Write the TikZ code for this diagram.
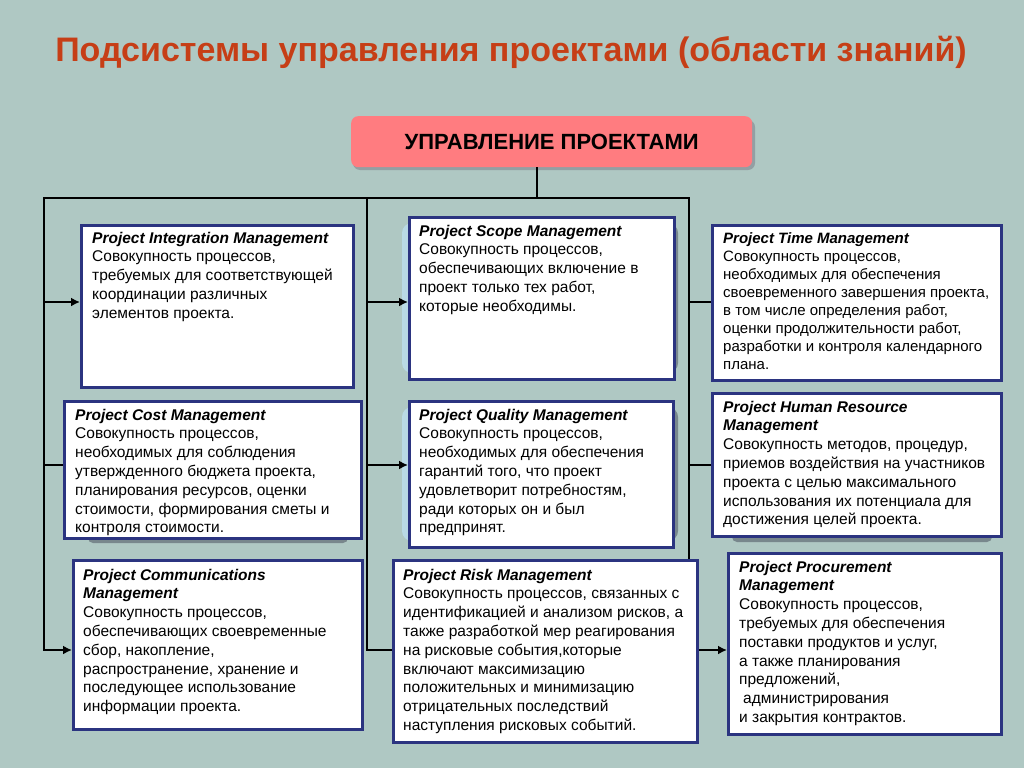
\documentclass[tikz,border=0pt]{standalone}
\usepackage{fontspec}
\setmainfont{Liberation Sans}
\usetikzlibrary{arrows.meta}
\definecolor{bg}{RGB}{175,200,195}
\definecolor{navy}{RGB}{43,52,128}
\definecolor{salmon}{RGB}{255,124,128}
\definecolor{titlec}{RGB}{198,62,22}
\definecolor{shadowc}{RGB}{120,135,140}
\definecolor{haloc}{RGB}{185,218,230}
\tikzset{
  pbox/.style={draw=navy,line width=3pt,fill=white,rectangle,anchor=north west,inner sep=0pt},
  ptext/.style={anchor=north west,inner sep=0pt,align=left,font=\fontsize{15.5}{18.8}\selectfont},
  conn/.style={draw=black,line width=2.8pt},
  arr/.style={conn,-{Latex[length=9pt,width=9pt]}},
  shadowbox/.style={fill=shadowc,rounded corners=5pt},
}
\newcommand{\pt}[1]{\strut\textbf{\textit{#1}}}
\begin{document}
\begin{tikzpicture}[x=1pt,y=-1pt]
\fill[bg] (0,0) rectangle (1024,768);
\useasboundingbox (0,0) rectangle (1024,768);

% title
\node[anchor=base,inner sep=0pt,text=titlec,font=\fontsize{34}{40}\selectfont\bfseries] (title) at (511,62) {Подсистемы управления проектами (области знаний)};

% top box
\fill[shadowc!80,rounded corners=7pt] (353,120) rectangle (755,170);
\node[fill=salmon,rounded corners=7pt,minimum width=401pt,minimum height=51pt,inner sep=0pt,anchor=north west,font=\fontsize{22}{26}\selectfont\bfseries] (T) at (351,116) {УПРАВЛЕНИЕ ПРОЕКТАМИ};

% coordinates of the trunk
\coordinate (top) at (537,198);
\coordinate (LT) at (44,198);
\coordinate (MT) at (367,198);
\coordinate (RT) at (689,198);
\coordinate (L1) at (44,302);
\coordinate (L2) at (44,465);
\coordinate (L3) at (44,650);
\coordinate (M1) at (367,302);
\coordinate (M2) at (367,465);
\coordinate (M3) at (367,650);
\coordinate (R1) at (689,302);
\coordinate (R2) at (689,465);
\coordinate (R3) at (689,650);

% shadows
\shade[left color=haloc,right color=shadowc,rounded corners=10pt] (402,223) rectangle (678,373);
\shade[left color=haloc,right color=shadowc,rounded corners=10pt] (402,407) rectangle (678,541);
\fill[shadowbox] (88,522) rectangle (348,543);
\fill[shadowbox] (732,520) rectangle (992,542);

% boxes
\node[pbox,minimum width=272pt,minimum height=162pt] (integ) at (80,224) {};
\node[pbox,minimum width=265pt,minimum height=162pt] (scope) at (408,216) {};
\node[pbox,minimum width=289pt,minimum height=155pt] (time) at (711,224) {};
\node[pbox,minimum width=297pt,minimum height=137pt] (cost) at (63,400) {};
\node[pbox,minimum width=264pt,minimum height=146pt] (qual) at (408,400) {};
\node[pbox,minimum width=289pt,minimum height=143pt] (hr) at (711,392) {};
\node[pbox,minimum width=289pt,minimum height=169pt] (comm) at (72,559) {};
\node[pbox,minimum width=273pt,minimum height=181pt] (proc) at (727,552) {};

% connectors
\draw[conn] (T.south -| top) -- (top);
\draw[conn,line cap=rect] (LT) -- (RT);
\draw[arr] (LT) -- (L3) -- (L3 -| comm.west);
\draw[conn] (MT) -- (M3) -- (M3 -| 392,0);
\draw[arr] (RT) -- (R3) -- (R3 -| proc.west);
\draw[arr] (L1) -- (L1 -| integ.west);
\draw[conn] (L2) -- (L2 -| cost.west);
\draw[arr] (M1) -- (M1 -| scope.west);
\draw[arr] (M2) -- (M2 -| qual.west);
\draw[conn] (R1) -- (R1 -| time.west);
\draw[conn] (R2) -- (R2 -| hr.west);

% risk box drawn over the right trunk
\node[pbox,minimum width=304pt,minimum height=182pt] (risk) at (392,559) {};

% texts
\node[ptext] (tinteg) at (92,229.8) {\pt{Project Integration Management}\\Совокупность процессов,\\требуемых для соответствующей\\координации различных\\элементов проекта.};
\node[ptext] (tscope) at (419,222.8) {\pt{Project Scope Management}\\Совокупность процессов,\\обеспечивающих включение в\\проект только тех работ,\\которые необходимы.};
\node[ptext,font=\fontsize{15}{18}\selectfont] (ttime) at (723,230.4) {\pt{Project Time Management}\\Совокупность процессов,\\необходимых для обеспечения\\своевременного завершения проекта,\\в том числе определения работ,\\оценки продолжительности работ,\\разработки и контроля календарного\\плана.};
\node[ptext] (tcost) at (75,406.8) {\pt{Project Cost Management}\\Совокупность процессов,\\необходимых для соблюдения\\утвержденного бюджета проекта,\\планирования ресурсов, оценки\\стоимости, формирования сметы и\\контроля стоимости.};
\node[ptext] (tqual) at (419,406.8) {\pt{Project Quality Management}\\Совокупность процессов,\\необходимых для обеспечения\\гарантий того, что проект\\удовлетворит потребностям,\\ради которых он и был\\предпринят.};
\node[ptext] (thr) at (723,398.8) {\pt{Project Human Resource}\\\pt{Management}\\Совокупность методов, процедур,\\приемов воздействия на участников\\проекта с целью максимального\\использования их потенциала для\\достижения целей проекта.};
\node[ptext] (tcomm) at (83,566.8) {\pt{Project Communications}\\\pt{Management}\\Совокупность процессов,\\обеспечивающих своевременные\\сбор, накопление,\\распространение, хранение и\\последующее использование\\информации проекта.};
\node[ptext] (trisk) at (403,566.8) {\pt{Project Risk Management}\\Совокупность процессов, связанных с\\идентификацией и анализом рисков, а\\также разработкой мер реагирования\\на рисковые события,которые\\включают максимизацию\\положительных и минимизацию\\отрицательных последствий\\наступления рисковых событий.};
\node[ptext] (tproc) at (739,558.8) {\pt{Project Procurement}\\\pt{Management}\\Совокупность процессов,\\требуемых для обеспечения\\поставки продуктов и услуг,\\а также планирования\\предложений,\\\hspace*{4pt}администрирования\\и закрытия контрактов.};
\end{tikzpicture}
\end{document}
